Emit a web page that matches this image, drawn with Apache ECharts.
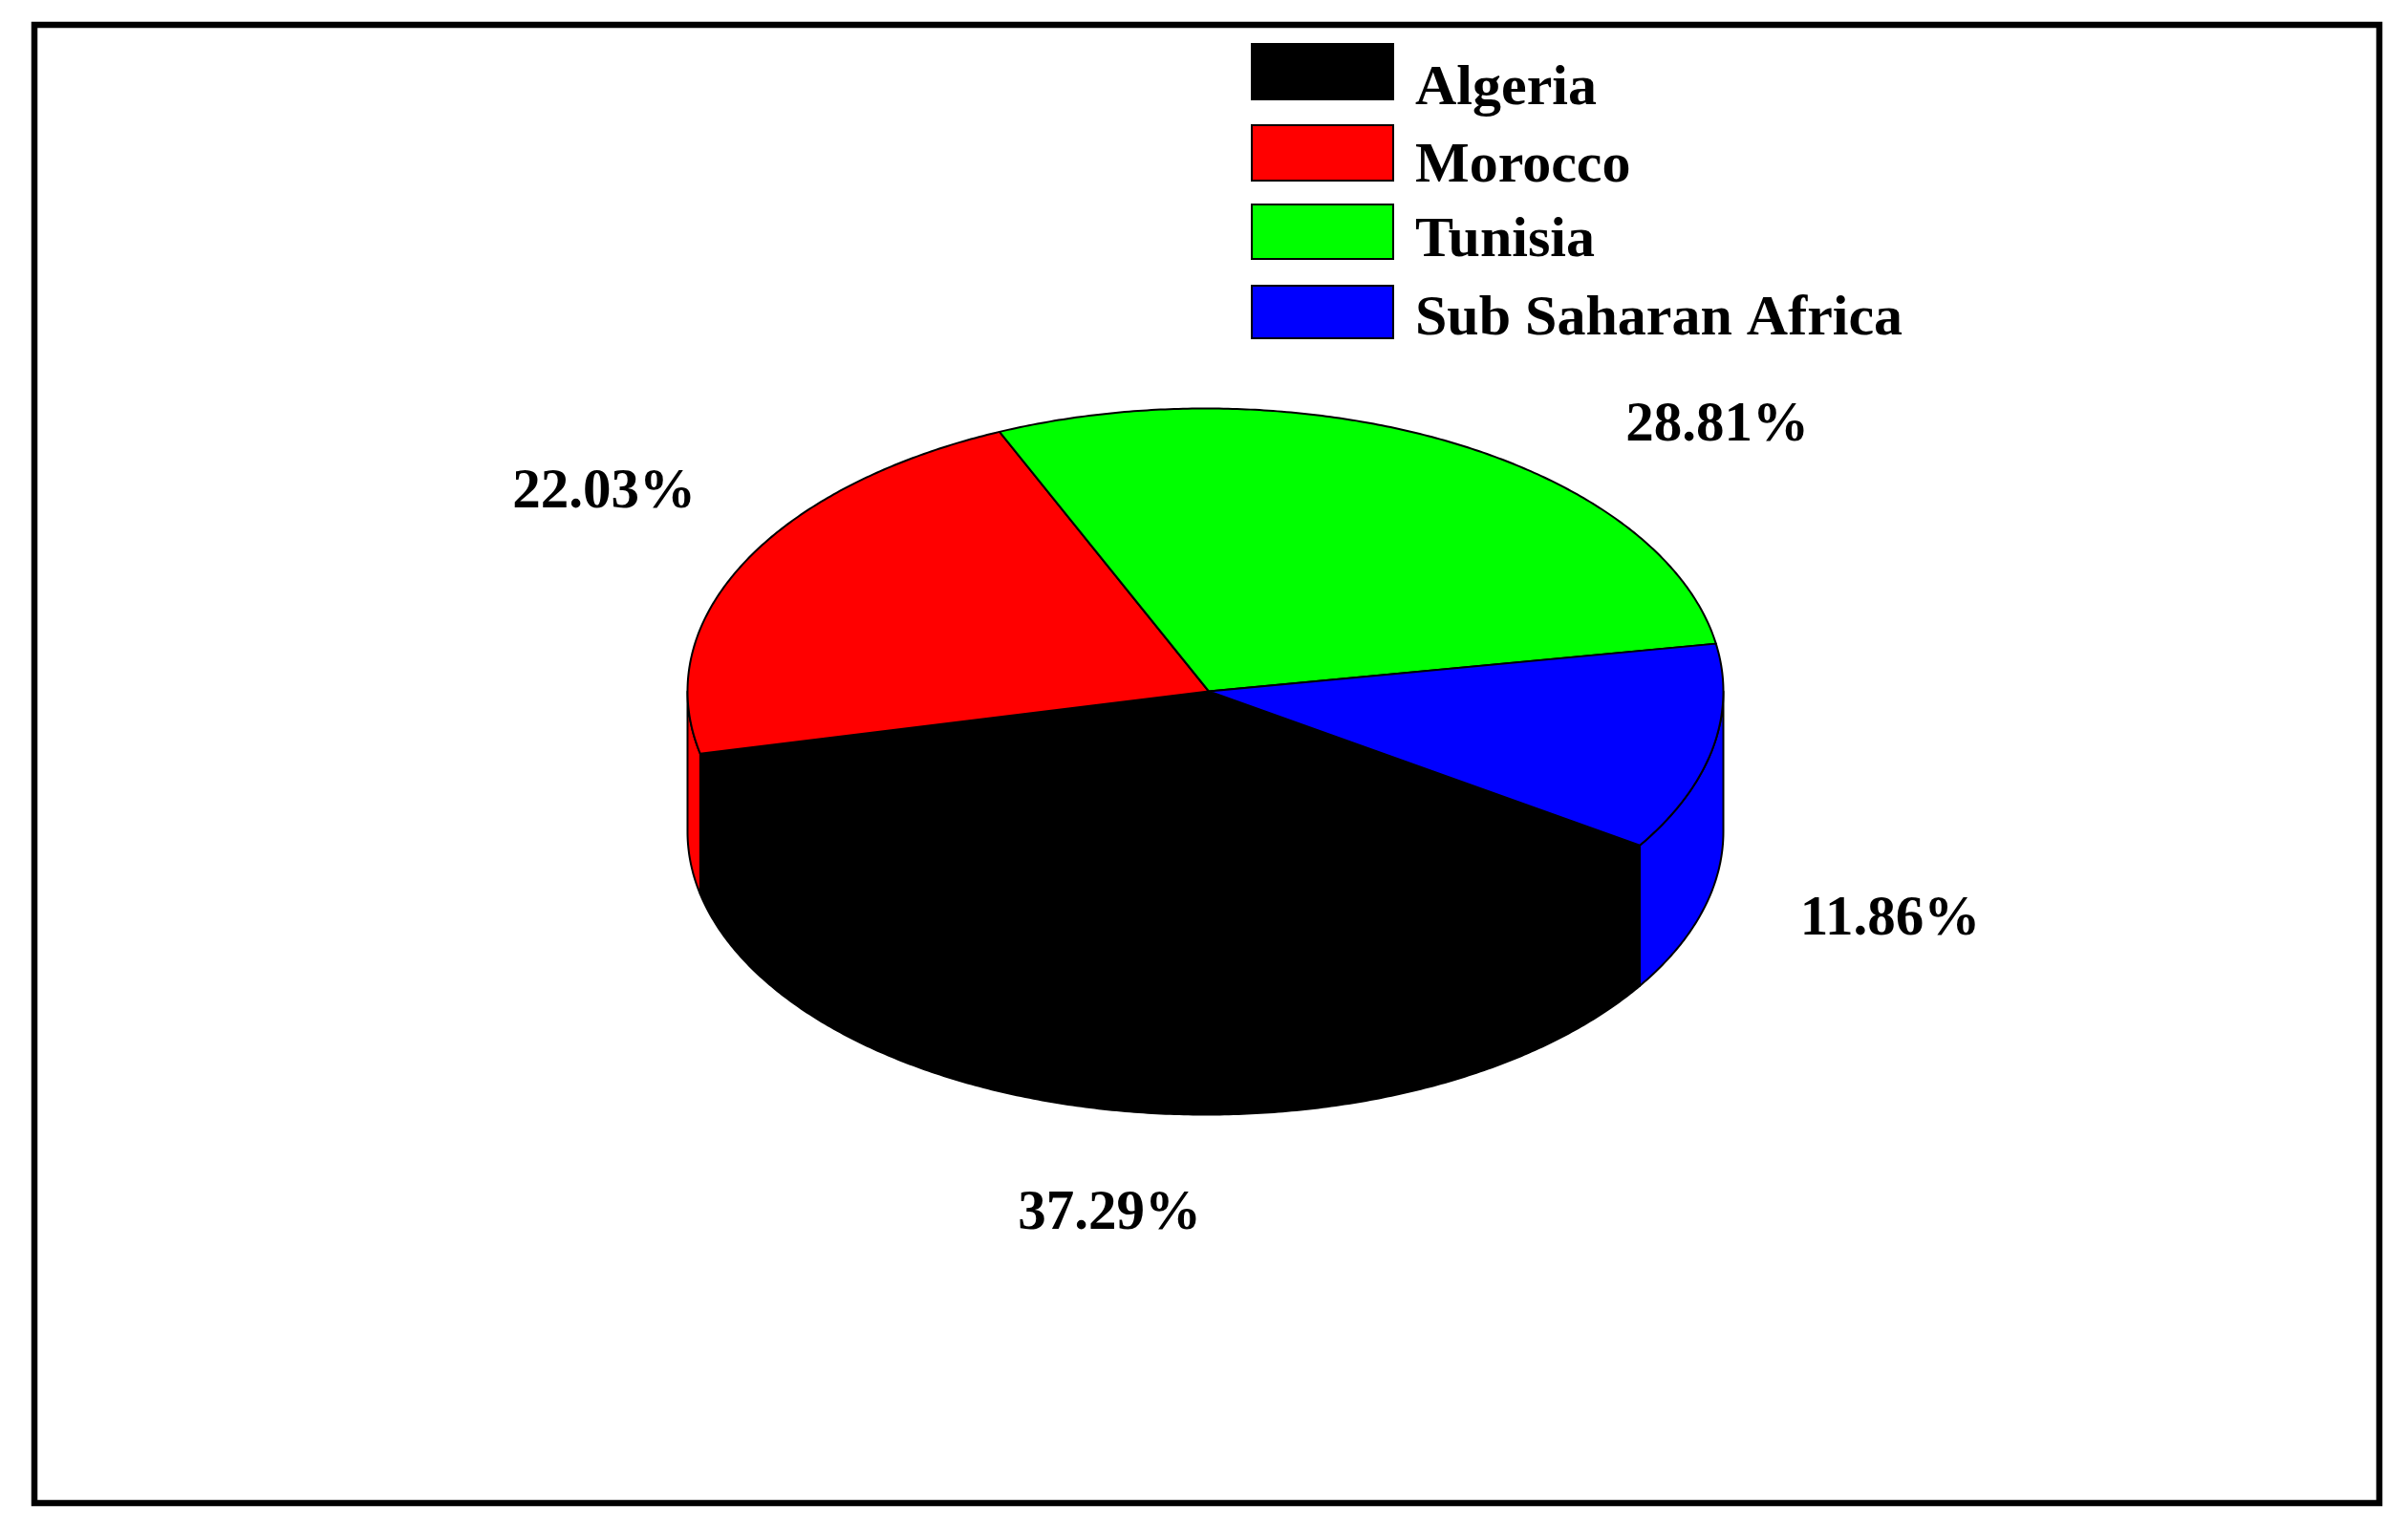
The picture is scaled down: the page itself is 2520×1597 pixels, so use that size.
<!DOCTYPE html>
<html>
<head>
<meta charset="utf-8">
<title>Pie chart</title>
<script src="https://cdn.jsdelivr.net/npm/echarts@6/dist/echarts.min.js"></script>
<style>
  html, body { margin: 0; padding: 0; background: #fff; }
  #chart { width: 2520px; height: 1597px; }
</style>
</head>
<body>
<div id="chart"></div>
<script>
  const regions = ['Algeria', 'Morocco', 'Tunisia', 'Sub Saharan Africa']
  const shares = [37.29, 22.03, 28.81, 11.86]
  const colors = ['#000000', '#ff0000', '#00ff00', '#0000ff']

  // where the slanted disc sits on the page (the slices meet a bit right of the ellipse centre)
  const disc = { cx: 1261.5, cy: 723.5, hubX: 1265, rx: 542, ry: 296, depth: 147, startAngle: -33 }
  const labelPos = [[1161, 1271], [632, 516], [1797, 446], [1978, 963]]
  const labelFont = 'bold 59px "Liberation Serif"'

  // the legend rows in the original are not evenly spaced
  const legendRows = [
    { top: 45, height: 58, textY: 93 },
    { top: 130, height: 58, textY: 174 },
    { top: 213, height: 57, textY: 252 },
    { top: 298, height: 55, textY: 334 }
  ]

  const total = shares.reduce((a, b) => a + b, 0)

  function project(deg, drop) {
    const r = deg * Math.PI / 180
    return [disc.cx + disc.rx * Math.cos(r), disc.cy - disc.ry * Math.sin(r) + drop]
  }

  function arc(from, to, drop) {
    const pts = []
    const n = Math.max(2, Math.ceil(Math.abs(to - from) * 2))
    for (let i = 0; i <= n; i++) {
      pts.push(project(from + (to - from) * i / n, drop))
    }
    return pts
  }

  // the part of a slice front wall that faces the viewer (angles -180..0)
  function wallRange(from, to) {
    const ranges = []
    for (let k = 0; k >= -1; k--) {
      const hi = Math.min(from, 360 * k)
      const lo = Math.max(to, 360 * k - 180)
      if (hi > lo) ranges.push([hi, lo])
    }
    return ranges
  }

  function renderSlice(index) {
    return function (params, api) {
      let before = 0
      for (let i = 0; i < index; i++) before += shares[i]
      const from = disc.startAngle - before / total * 360
      const to = from - api.value(0) / total * 360
      const style = { fill: colors[index], stroke: '#000', lineWidth: 2, lineJoin: 'round' }
      const children = []
      wallRange(from, to).forEach(function (range) {
        const top = arc(range[0], range[1], 0)
        const bottom = arc(range[1], range[0], disc.depth)
        children.push({ type: 'polygon', shape: { points: top.concat(bottom) }, style: style })
      })
      children.push({
        type: 'polygon',
        shape: { points: [[disc.hubX, disc.cy]].concat(arc(from, to, 0)) },
        style: style
      })
      children.push({
        type: 'text',
        x: labelPos[index][0],
        y: labelPos[index][1],
        style: {
          text: api.value(0).toFixed(2) + '%',
          font: labelFont,
          fill: '#000',
          align: 'center',
          verticalAlign: 'middle'
        }
      })
      return { type: 'group', children: children }
    }
  }

  const chart = echarts.init(document.getElementById('chart'), null, { renderer: 'canvas' })
  chart.setOption({
    animation: false,
    backgroundColor: '#fff',
    graphic: [{
      type: 'rect',
      shape: { x: 36, y: 26, width: 2454, height: 1547 },
      style: { fill: 'none', stroke: '#000', lineWidth: 6.5 }
    }].concat(regions.map(function (name, i) {
      return {
        type: 'text',
        x: 1481,
        y: legendRows[i].textY,
        style: {
          text: name,
          font: 'bold 60px "Liberation Serif"',
          fill: '#000',
          align: 'left',
          verticalAlign: 'middle'
        }
      }
    })),
    legend: regions.map(function (name, i) {
      return {
        left: 1309,
        top: legendRows[i].top,
        padding: 0,
        itemWidth: 148,
        itemHeight: legendRows[i].height,
        icon: 'rect',
        selectedMode: false,
        itemStyle: { borderColor: '#000', borderWidth: 2 },
        formatter: function () { return '' },
        data: [name]
      }
    }),
    series: regions.map(function (name, i) {
      return {
        name: name,
        type: 'custom',
        coordinateSystem: 'none',
        silent: true,
        itemStyle: { color: colors[i] },
        renderItem: renderSlice(i),
        data: [[shares[i]]]
      }
    })
  })
</script>
</body>
</html>
